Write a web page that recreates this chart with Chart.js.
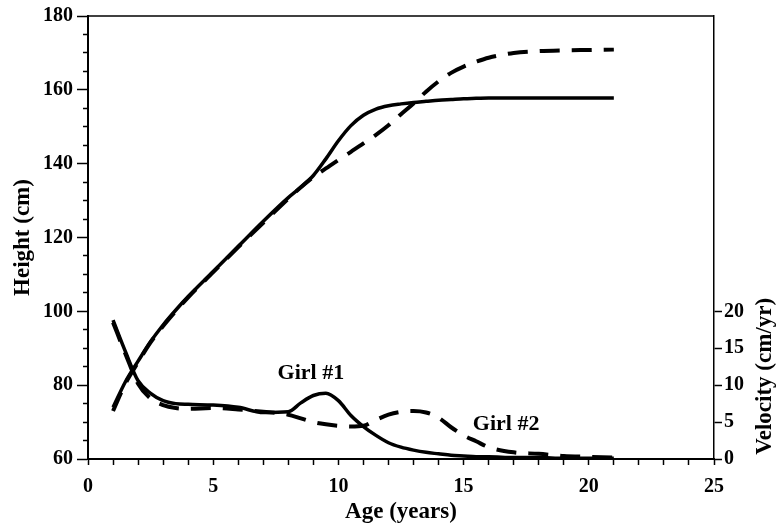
<!DOCTYPE html>
<html>
<head>
<meta charset="utf-8">
<script src="https://cdn.jsdelivr.net/npm/chart.js@4/dist/chart.umd.min.js"></script>
<style>
  html, body { margin: 0; padding: 0; background: #fff; }
  #wrap { width: 777px; height: 528px; }
</style>
</head>
<body>
<div id="wrap"><canvas id="growth-chart" width="777" height="528"></canvas></div>
<script>
// ages in years, shared by both girls
const ages = [1, 1.5, 2, 2.5, 3, 3.5, 4, 5, 6, 7, 8, 8.5, 9, 9.5, 10, 10.5, 11, 11.5, 12, 12.5, 13, 13.5, 14, 14.5, 15, 15.5, 16, 17, 18, 19, 20, 21]

// height (cm)
const height_girl1 = [74.0, 81.0, 86.5, 91.8, 96.3, 100.3, 104.0, 110.8, 117.6, 124.4, 130.8, 133.6, 136.8, 141.3, 146.2, 150.3, 153.1, 154.8, 155.7, 156.2, 156.6, 156.9, 157.2, 157.4, 157.6, 157.7, 157.8, 157.8, 157.8, 157.8, 157.8, 157.8]
const height_girl2 = [73.0, 80.5, 86.2, 91.6, 96.0, 100.0, 103.8, 110.6, 117.4, 124.0, 130.5, 133.6, 136.4, 138.7, 141.0, 143.2, 145.5, 147.8, 150.4, 153.4, 156.3, 159.5, 162.3, 164.6, 166.3, 167.6, 168.7, 170.0, 170.5, 170.7, 170.8, 170.9]

// velocity (cm/yr)
const velocity_girl1 = [18.8, 14.5, 10.6, 8.9, 7.9, 7.5, 7.4, 7.3, 7.0, 6.3, 6.4, 7.6, 8.6, 8.9, 7.9, 5.9, 4.4, 3.2, 2.2, 1.6, 1.2, 0.9, 0.7, 0.5, 0.4, 0.3, 0.3, 0.2, 0.2, 0.1, 0.1, 0.1]
const velocity_girl2 = [18.5, 14.2, 10.2, 8.2, 7.3, 6.9, 6.8, 6.9, 6.7, 6.4, 6.0, 5.5, 5.0, 4.7, 4.5, 4.4, 4.5, 5.3, 6.0, 6.4, 6.5, 6.3, 5.6, 4.3, 3.2, 2.4, 1.6, 0.9, 0.7, 0.4, 0.3, 0.2]

// curve labels, placed in data units (age, velocity)
const label_texts = ['Girl #1', 'Girl #2']
const label_ages = [8.9, 16.7]
const label_velocities = [10.9, 3.9]

const serif = "'Liberation Serif', 'Times New Roman', serif"
const tick_font = { family: serif, size: 20, weight: 'bold' }
const title_font = { family: serif, size: 23, weight: 'bold' }

function points(ys) {
  return ages.map((a, i) => ({ x: a, y: ys[i] }))
}

const solid = { borderColor: '#000', borderWidth: 3.5, pointRadius: 0, cubicInterpolationMode: 'monotone', fill: false }
const dashed = { borderColor: '#000', borderWidth: 4, borderDash: [20, 12], pointRadius: 0, cubicInterpolationMode: 'monotone', fill: false }

const extras = {
  id: 'extras',
  afterDraw(chart) {
    const ctx = chart.ctx
    const area = chart.chartArea
    const x = chart.scales.x
    const yR = chart.scales.yR
    ctx.save()
    // top frame line
    ctx.strokeStyle = '#000'
    ctx.lineWidth = 1.5
    ctx.beginPath()
    ctx.moveTo(area.left, area.top)
    ctx.lineTo(area.right, area.top)
    ctx.stroke()

    ctx.fillStyle = '#000'
    ctx.font = 'bold 22px ' + serif
    ctx.textAlign = 'center'
    ctx.textBaseline = 'alphabetic'
    label_texts.forEach((t, i) => {
      ctx.fillText(t, x.getPixelForValue(label_ages[i]), yR.getPixelForValue(label_velocities[i]))
    })

    // right axis title, centred on the labelled part of the axis
    ctx.font = 'bold 23px ' + serif
    ctx.translate(area.right + 51, yR.getPixelForValue(11.2))
    ctx.rotate(-Math.PI / 2)
    ctx.textBaseline = 'middle'
    ctx.fillText('Velocity (cm/yr)', 0, 0)
    ctx.restore()
  }
}

const ctx = document.getElementById('growth-chart').getContext('2d')
const chart = new Chart(ctx, {
  type: 'line',
  data: {
    datasets: [
      Object.assign({ label: 'Girl #1 height', data: points(height_girl1), yAxisID: 'y' }, solid),
      Object.assign({ label: 'Girl #2 height', data: points(height_girl2), yAxisID: 'y' }, dashed),
      Object.assign({ label: 'Girl #1 velocity', data: points(velocity_girl1), yAxisID: 'yR' }, solid),
      Object.assign({ label: 'Girl #2 velocity', data: points(velocity_girl2), yAxisID: 'yR' }, dashed)
    ]
  },
  options: {
    responsive: false,
    animation: false,
    layout: { padding: { top: 13, left: 0, right: 0, bottom: 0 } },
    scales: {
      x: {
        type: 'linear',
        min: 0,
        max: 25,
        afterFit: function(scale) { scale.height = 69 },
        ticks: {
          stepSize: 1,
          autoSkip: false,
          maxRotation: 0,
          padding: 10,
          color: '#000',
          font: tick_font,
          callback: function(value) { return value % 5 === 0 ? value : '' }
        },
        grid: { drawOnChartArea: false, tickLength: 6, tickWidth: 1.5, tickColor: '#000' },
        border: { display: true, color: '#000', width: 2 },
        title: { display: true, text: 'Age (years)', color: '#000', font: title_font, padding: { top: 0, bottom: 2 } }
      },
      y: {
        position: 'left',
        min: 60,
        max: 180,
        afterFit: function(scale) { scale.width = 88 },
        ticks: {
          stepSize: 5,
          autoSkip: false,
          padding: 4,
          color: '#000',
          font: tick_font,
          callback: function(value) { return value % 20 === 0 ? value : '' }
        },
        grid: {
          drawOnChartArea: false,
          tickLength: 11,
          tickWidth: 1.5,
          tickColor: '#000',
          // minor ticks: skip the outer 6px so only a short mark touches the axis
          tickBorderDash: function(c) { return c.tick && c.tick.value % 20 === 0 ? [] : [0, 6, 5, 30] }
        },
        border: { display: true, color: '#000', width: 2 },
        title: { display: true, text: 'Height (cm)', color: '#000', font: title_font, padding: { top: 9, bottom: 0 } }
      },
      yR: {
        position: 'right',
        min: 0,
        max: 60,
        afterFit: function(scale) { scale.width = 63 },
        ticks: {
          stepSize: 5,
          autoSkip: false,
          padding: 2,
          color: '#000',
          font: tick_font,
          callback: function(value) { return value <= 20 ? value : null }
        },
        grid: { drawOnChartArea: false, tickLength: 8, tickWidth: 1.5, tickColor: '#000' },
        border: { display: true, color: '#000', width: 1.5 }
      }
    },
    plugins: {
      legend: { display: false },
      tooltip: { enabled: false }
    }
  },
  plugins: [extras]
})
</script>
</body>
</html>
